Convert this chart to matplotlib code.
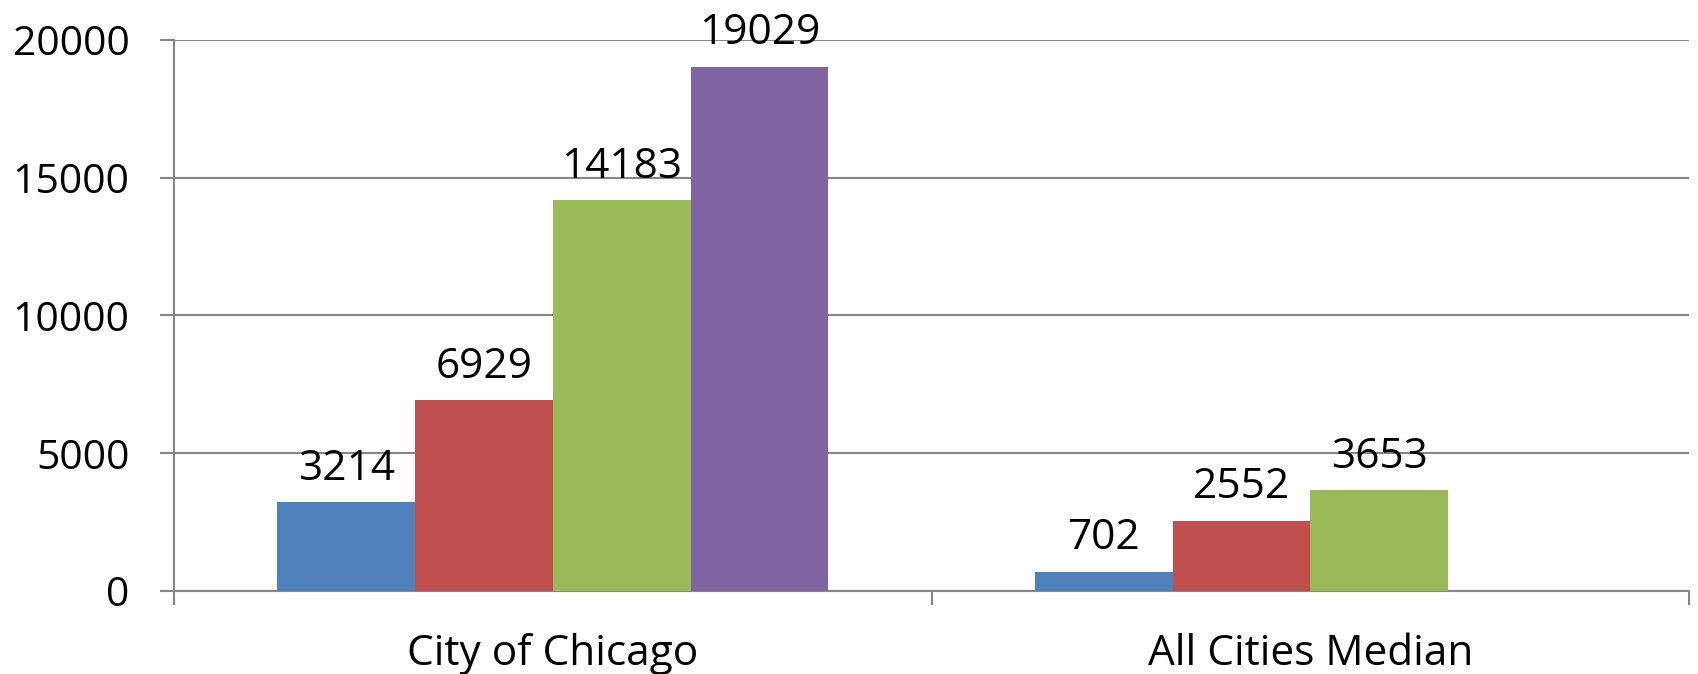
import numpy as np
import matplotlib
matplotlib.use("Agg")
import matplotlib.pyplot as plt

plt.rcParams['font.family'] = ['Open Sans', 'DejaVu Sans']

categories = ["City of Chicago", "All Cities Median"]
series_a = [3214, 702]
series_b = [6929, 2552]
series_c = [14183, 3653]
series_d = [19029, np.nan]   # no value for the median group
colors = ["#4F81BD", "#C0504D", "#9BBB59", "#8064A2"]
yticks = [0, 5000, 10000, 15000, 20000]

all_series = [series_a, series_b, series_c, series_d]

fig = plt.figure(figsize=(16.98, 6.74), dpi=100)
ax = fig.add_axes([0.1025, 0.1231, 0.8922, 0.8176])

x = np.arange(len(categories))
w = 1 / 5.5  # gap width 150%
grey = "#868686"

for i, vals in enumerate(all_series):
    pos = x - 2 * w + (i + 0.5) * w
    ax.bar(pos, vals, width=w, color=colors[i], zorder=3)
    for p, v in zip(pos, vals):
        if np.isnan(v):
            continue
        ax.annotate(f"{int(v)}", (p, v), xytext=(0, 9), textcoords="offset points",
                    ha="center", va="bottom", fontsize=30.5, zorder=4)

ax.set_xlim(-0.5, 1.5)
ax.set_ylim(0, 20000)
ax.set_yticks(yticks)
ax.set_yticklabels([str(t) for t in yticks], fontsize=29.5)
ax.yaxis.grid(True, color=grey, lw=1.5, zorder=0)

ax.set_xticks([-0.5, 0.5, 1.5])
ax.set_xticklabels([])
ax.set_xticks(x, minor=True)
ax.set_xticklabels(categories, minor=True, fontsize=30.5)

ax.tick_params(axis="y", direction="out", length=10, width=1.5, color=grey, pad=22)
ax.tick_params(axis="x", which="major", direction="out", length=10, width=1.5, color=grey)
ax.tick_params(axis="x", which="minor", length=0, pad=30)

for s in ["top", "right"]:
    ax.spines[s].set_visible(False)
ax.spines["left"].set_color(grey)
ax.spines["left"].set_linewidth(1.5)
ax.spines["bottom"].set_color(grey)
ax.spines["bottom"].set_linewidth(1.5)

fig.savefig("out.png", dpi=100)
